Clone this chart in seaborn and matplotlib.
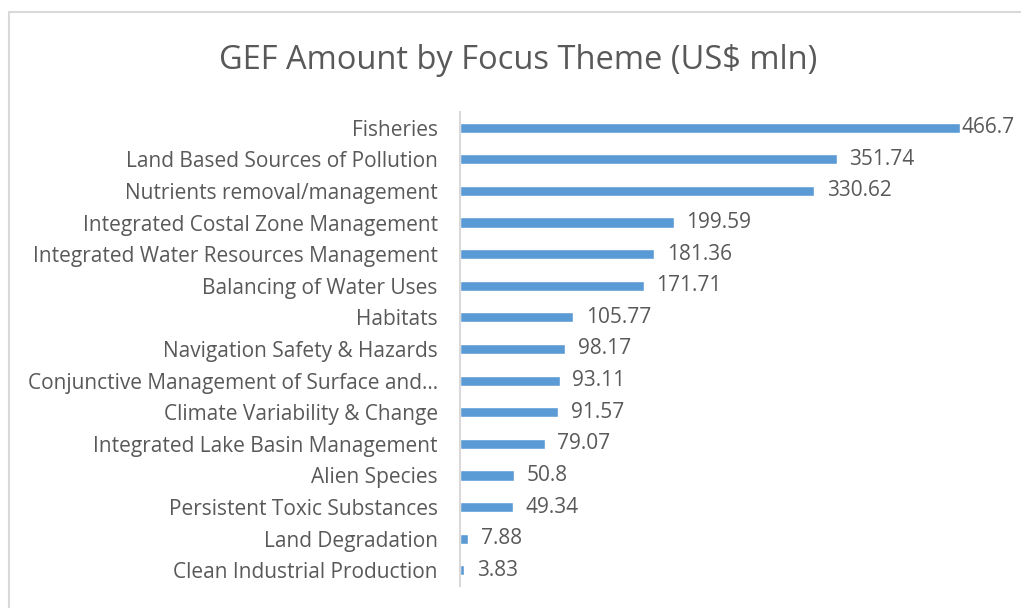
import matplotlib
matplotlib.use("Agg")
import matplotlib.pyplot as plt
import seaborn as sns
import pandas as pd
from matplotlib.patches import Rectangle

# テーマ名と金額 (US$ mln)
themes = [
    "Fisheries",
    "Land Based Sources of Pollution",
    "Nutrients removal/management",
    "Integrated Costal Zone Management",
    "Integrated Water Resources Management",
    "Balancing of Water Uses",
    "Habitats",
    "Navigation Safety & Hazards",
    "Conjunctive Management of Surface and\u2026",
    "Climate Variability & Change",
    "Integrated Lake Basin Management",
    "Alien Species",
    "Persistent Toxic Substances",
    "Land Degradation",
    "Clean Industrial Production",
]
amounts = [466.7, 351.74, 330.62, 199.59, 181.36, 171.71, 105.77, 98.17,
           93.11, 91.57, 79.07, 50.8, 49.34, 7.88, 3.83]
amount_labels = ["466.7", "351.74", "330.62", "199.59", "181.36", "171.71",
                 "105.77", "98.17", "93.11", "91.57", "79.07", "50.8",
                 "49.34", "7.88", "3.83"]

df = pd.DataFrame({"Theme": themes, "Amount": amounts})

sns.set_style("white")
plt.rcParams["font.family"] = ["Open Sans", "DejaVu Sans"]

fig = plt.figure(figsize=(10.21, 6.08), dpi=100)
ax = fig.add_axes([0.4505, 0.036, 0.525, 0.780])

sns.barplot(data=df, x="Amount", y="Theme", orient="h", color="#5B9BD5",
            width=0.32, saturation=1, ax=ax)

# 値ラベル（一番長いバーだけ枠内に収まるよう詰める）
bars = ax.containers[0]
ax.bar_label(bars, labels=[""] + amount_labels[1:], padding=9,
             fontsize=15, color="#595959", clip_on=False)
ax.bar_label(bars, labels=amount_labels[:1] + [""] * (len(amounts) - 1),
             padding=1, fontsize=15, color="#595959", clip_on=False)

ax.set_xlim(0, 500)
ax.set_ylim(14.5, -0.5)
ax.set_xlabel("")
ax.set_ylabel("")
ax.set_xticks([])
ax.tick_params(axis="y", length=0, pad=16, labelsize=15, labelcolor="#595959")
for side in ["top", "right", "bottom"]:
    ax.spines[side].set_visible(False)
ax.spines["left"].set_color("#d9d9d9")
ax.spines["left"].set_linewidth(1.5)

fig.text(0.507, 0.901, "GEF Amount by Focus Theme (US$ mln)", ha="center",
         va="center", fontsize=23.5, color="#595959")

# 外枠（右と下は画像の外で切れている）
top = 1 - 12 / 608
fig.add_artist(Rectangle((9 / 1021, -0.2), 1.5, top + 0.2,
                         transform=fig.transFigure, fill=False,
                         edgecolor="#d9d9d9", linewidth=1.5))

fig.savefig("out.png", dpi=100)
